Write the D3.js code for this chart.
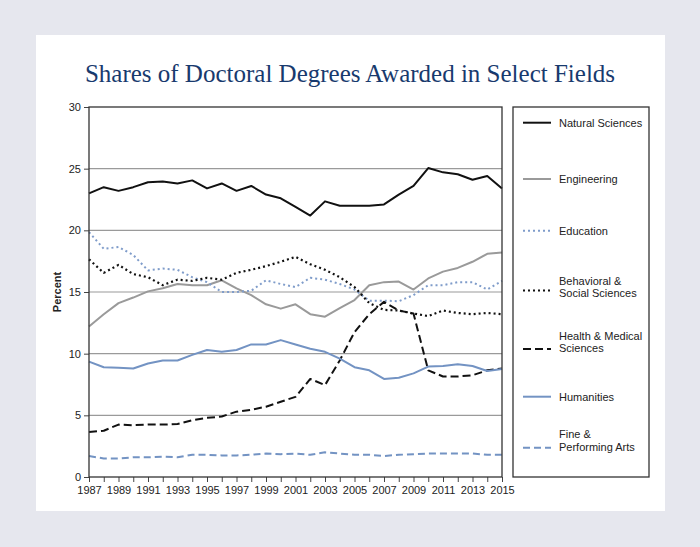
<!DOCTYPE html>
<html><head><meta charset="utf-8">
<script src="https://cdn.jsdelivr.net/npm/d3@7"></script>
<style>
html,body{margin:0;padding:0;background:#e6e7ee;}
svg{display:block;}
</style></head>
<body>
<svg id="chart" width="700" height="547"></svg>
<script>
const years = d3.range(1987, 2016);
const seriesNames = ["Natural Sciences","Engineering","Education","Behavioral & Social Sciences","Health & Medical Sciences","Humanities","Fine & Performing Arts"];
const legendLabels = [["Natural Sciences"],["Engineering"],["Education"],["Behavioral &","Social Sciences"],["Health & Medical","Sciences"],["Humanities"],["Fine &","Performing Arts"]];
const naturalSciences = [23.0,23.5,23.2,23.5,23.9,23.95,23.8,24.05,23.4,23.8,23.2,23.6,22.9,22.6,21.9,21.2,22.35,22.0,22.0,22.0,22.1,22.9,23.6,25.05,24.7,24.55,24.1,24.4,23.4];
const engineering = [12.2,13.2,14.1,14.55,15.05,15.3,15.65,15.55,15.55,15.95,15.3,14.75,14.0,13.65,14.0,13.2,13.0,13.7,14.35,15.55,15.8,15.85,15.2,16.1,16.65,16.95,17.45,18.1,18.2];
const education = [19.85,18.5,18.65,18.0,16.75,16.9,16.8,16.2,15.8,15.0,15.0,15.1,15.95,15.65,15.4,16.15,16.0,15.65,15.2,14.3,14.3,14.25,14.75,15.55,15.55,15.8,15.8,15.2,15.9];
const behavioralSocial = [17.65,16.55,17.2,16.45,16.2,15.55,16.0,15.9,16.15,16.0,16.55,16.8,17.1,17.45,17.85,17.25,16.8,16.2,15.4,14.1,13.55,13.5,13.25,13.05,13.5,13.3,13.2,13.3,13.2];
const healthMedical = [3.65,3.75,4.25,4.2,4.25,4.25,4.3,4.6,4.8,4.9,5.3,5.45,5.7,6.1,6.5,7.95,7.45,9.45,11.75,13.2,14.2,13.5,13.25,8.65,8.15,8.15,8.25,8.65,8.8];
const humanities = [9.35,8.9,8.85,8.8,9.2,9.45,9.45,9.9,10.3,10.15,10.3,10.75,10.75,11.1,10.75,10.4,10.15,9.6,8.9,8.65,7.95,8.05,8.4,8.95,9.0,9.15,9.0,8.6,8.75];
const finePerforming = [1.7,1.5,1.5,1.6,1.6,1.65,1.6,1.8,1.8,1.75,1.75,1.8,1.9,1.85,1.9,1.8,2.0,1.9,1.8,1.8,1.7,1.8,1.85,1.9,1.9,1.9,1.9,1.8,1.8];
const yTicks = [0,5,10,15,20,25,30];
const xTickLabels = d3.range(1987, 2016, 2);

const seriesValues = [naturalSciences, engineering, education, behavioralSocial, healthMedical, humanities, finePerforming];
const styles = [
  {color:"#111111", dash:null, w:2},
  {color:"#9a9a9a", dash:null, w:2},
  {color:"#7f9cca", dash:"2,3", w:2},
  {color:"#111111", dash:"2,3", w:2.2},
  {color:"#111111", dash:"8,4", w:2},
  {color:"#7393c3", dash:null, w:2},
  {color:"#7393c3", dash:"7,4", w:2}
];

const svg = d3.select("#chart");
svg.append("rect").attr("x",36).attr("y",35).attr("width",629).attr("height",476).attr("fill","#ffffff");

svg.append("text").attr("x",350).attr("y",82).attr("text-anchor","middle")
  .attr("font-family","'Liberation Serif','DejaVu Serif',serif").attr("font-size",25)
  .attr("fill","#183a6e").text("Shares of Doctoral Degrees Awarded in Select Fields");

const L=89, R=502, T=107, B=477;
const x = d3.scaleLinear().domain([1987,2015]).range([L,R]);
const y = d3.scaleLinear().domain([0,30]).range([B,T]);

// gridlines
svg.append("g").selectAll("line").data(yTicks.filter(d=>d>0&&d<30)).join("line")
  .attr("x1",L).attr("x2",R).attr("y1",d=>y(d)).attr("y2",d=>y(d))
  .attr("stroke","#9a9a9a").attr("stroke-width",1.2);

// y axis
const yAxis = svg.append("g").attr("transform",`translate(${L},0)`)
  .call(d3.axisLeft(y).tickValues(yTicks).tickSize(5).tickPadding(3));
yAxis.select(".domain").remove();
yAxis.selectAll("line").attr("stroke","#444");
yAxis.selectAll("text").attr("font-family","'Liberation Sans',Arial,sans-serif").attr("font-size",11).attr("fill","#222");

// x axis
const xAxis = svg.append("g").attr("transform",`translate(0,${B})`)
  .call(d3.axisBottom(x).tickValues(years).tickSize(5).tickPadding(4).tickFormat(d=> xTickLabels.includes(d)? String(d):""));
xAxis.select(".domain").remove();
xAxis.selectAll("line").attr("stroke","#444");
xAxis.selectAll("text").attr("font-family","'Liberation Sans',Arial,sans-serif").attr("font-size",11).attr("fill","#222");

svg.append("text").attr("transform",`translate(61,${(T+B)/2}) rotate(-90)`).attr("text-anchor","middle")
  .attr("font-family","'Liberation Sans',Arial,sans-serif").attr("font-size",11).attr("font-weight","bold").attr("fill","#222").text("Percent");

// lines
const line = d3.line().x((d,i)=>x(years[i])).y(d=>y(d));
seriesValues.forEach((vals,i)=>{
  const s = styles[i];
  svg.append("path").datum(vals).attr("d",line).attr("fill","none")
    .attr("stroke",s.color).attr("stroke-width",s.w).attr("stroke-dasharray",s.dash)
    .attr("stroke-linejoin","round");
});

// plot frame
svg.append("rect").attr("x",L).attr("y",T).attr("width",R-L).attr("height",B-T)
  .attr("fill","none").attr("stroke","#333").attr("stroke-width",1.3);

// legend
const LX=513, LW=136;
svg.append("rect").attr("x",LX).attr("y",T).attr("width",LW).attr("height",B-T)
  .attr("fill","none").attr("stroke","#333").attr("stroke-width",1.3);
const legendLineY = [122.7,179,230.7,290.5,349,396.7,447.7];
const legendTextY = [122.7,179,230.7,280.7,335.7,396.7,434.3];
seriesNames.forEach((name,i)=>{
  const s = styles[i];
  const g = svg.append("g");
  g.append("line").attr("x1",523).attr("x2",551).attr("y1",legendLineY[i]).attr("y2",legendLineY[i])
    .attr("stroke",s.color).attr("stroke-width",s.w).attr("stroke-dasharray",s.dash);
  const t = g.append("text").attr("x",559).attr("y",legendTextY[i]).attr("dy","0.35em")
    .attr("font-family","'Liberation Sans',Arial,sans-serif").attr("font-size",11).attr("fill","#222");
  legendLabels[i].forEach((ln,j)=>{
    t.append("tspan").attr("x",559).attr("dy", j===0? "0.35em":"1.15em").text(ln);
  });
});
</script>
</body></html>
